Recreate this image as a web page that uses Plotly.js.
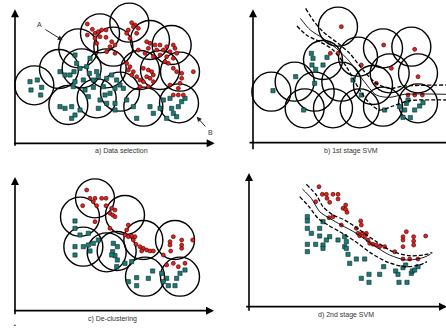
<!DOCTYPE html>
<html><head><meta charset="utf-8">
<script src="https://cdn.plot.ly/plotly-3.0.1.min.js"></script>
<style>html,body{margin:0;padding:0;background:#fff}#chart{width:446px;height:329px}</style>
</head><body><div id="chart"></div>
<script>
// Panel a) Data selection
const aCircX = [103,177,235,300,388,450,515,480,540,537,430,360,290,205,245,320,420,340];
const aCircY = [256,207,145,100,68,120,135,210,215,310,320,275,295,315,205,205,210,140];
const aRedX = [262,277,285,295,305,318,262,285,300,318,290,335,345,330,320,345, 395,405,415,385,410,380,390,400, 440,450,465,480,500,520,525,445,470,490,510,530,415,435,460,480,500,520,495,505, 380,390,385,400,395,410,420,430,445,455,460,440,450,430,460,445,420, 520,530,545,580,545,540,535,520,535,550,510];
const aRedY = [72,88,100,95,90,90,105,115,110,112,130,125,135,140,155,160, 68,75,85,90,100,100,115,80, 125,130,135,135,140,135,145,145,150,150,155,160,150,160,170,165,170,175,185,190, 190,200,210,215,225,230,240,205,210,215,225,230,235,245,245,260,260, 205,215,220,215,235,250,265,285,285,285,255];
const aTealX = [90,112,93,125,122, 180,195,210,222,240,230,260,270,225, 268,290,295,250,225,280,320,335,350,310,315,330,360,345,370,300,320,295, 180,195,215,240,215,225, 345,345,380,400,410,450,460,480,490,510,515,520,535,545,555,530,500, 220,255,265,280];
const aTealY = [245,240,270,262,285, 215,225,225,215,205,190,200,175,165, 220,215,230,240,245,240,235,225,240,260,285,280,255,265,265,300,310,325, 320,325,320,330,355,345, 330,310,300,320,355,320,340,325,300,295,325,340,320,305,295,350,355, 260,270,290,262];

// Panel b) 1st stage SVM
const bCircX = [145,215,245,275,300,345,405,355,330,410,450,480,565,500,585,585,480];
const bCircY = [275,245,325,275,180,80,170,245,325,325,255,145,140,220,220,310,320];
const bRedX = [355,322,345,415,482,505,575,585,460,555,575,598];
const bRedY = [80,160,160,195,135,205,148,230,250,285,285,285];
const bTealX = [150,265,270,267,300,312,278,218,275,242,390,415,485,530,545,550,540,562,575,590,600,555];
const bTealY = [272,160,175,195,195,172,208,230,250,330,240,285,330,320,330,310,352,353,330,318,308,300];
const bSolidX = [232,262,300,340,380,420,460,500,545,669];
const bSolidY = [55,90,115,145,185,240,285,292,283,283];
const bUpX = [248,270,300,345,380,420,460,500,545,669];
const bUpY = [25,60,95,130,160,210,250,265,258,255];
const bLowX = [222,250,290,330,370,410,440,470,510,560,669];
const bLowY = [78,105,125,150,200,270,310,330,318,302,300];

// Panel c) De-clustering
const cCircX = [285,240,375,250,320,350,430,525,435,540];
const cCircY = [100,155,150,245,262,258,225,225,335,335];
const cRedX = [260,270,285,280,305,318,248,290,318,335,345,330,338,345,285,330,385,380,375,385,395,405,400,408,420,430,440,450,460,425,490,520,510,510,545,545,545,578,512,500,520,535,555];
const cRedY = [75,100,100,110,100,100,122,122,122,130,135,145,150,155,170,190,180,195,210,215,213,215,225,238,245,250,255,258,258,258,270,215,230,240,225,240,250,225,258,300,295,305,295];
const cTealX = [225,225,240,265,250,225,225,265,280,295,270,340,352,338,345,352,335,350,375,395,385,410,410,445,458,485,500,490,505,525,530,540,555];
const cTealY = [168,190,210,205,245,245,270,240,235,225,258,235,245,260,272,285,270,305,295,290,350,338,362,340,318,325,340,350,362,362,340,325,315];

// Panel d) 2nd stage SVM
const dRedX = [288,278,298,310,312,330,345,345,320,360,368,368,372,330,318,355,413,415,400,405,418,425,430,410,435,440,450,460,470,485,515,540,550,540,540,572,572,572,608,540,560,585];
const dRedY = [65,110,88,88,100,88,88,102,112,130,120,133,142,155,158,180,168,180,190,205,205,215,205,212,225,235,238,240,245,245,260,215,200,225,245,215,228,240,213,282,282,282];
const dTealX = [253,253,253,265,300,290,290,320,310,345,300,300,278,253,253,365,370,365,370,375,380,400,425,482,470,438,415,438,518,525,540,565,568,575,585,528,552,548];
const dTealY = [155,168,190,205,170,190,213,215,225,225,240,250,238,238,260,215,230,245,250,268,295,282,282,305,328,328,340,352,318,328,308,325,318,315,305,352,352,300];
const dSolidX = [238,265,290,320,355,400,450,500,550,600,622];
const dSolidY = [72,100,140,160,180,205,240,270,285,278,268];
const dUpX = [250,280,300,330,365,410,460,510,560,600,628];
const dUpY = [58,90,125,150,165,195,230,260,272,270,263];
const dLowX = [230,258,285,315,350,395,445,495,545,590,612];
const dLowY = [95,125,160,180,200,228,265,292,305,300,290];

const captions = ['a) Data selection','b) 1st stage SVM','c) De-clustering','d) 2nd stage SVM'];

const RED = '#e3201b', TEAL = '#1d7a74';
const traces = [];
function pts(x, y, ax, kind){
  const red = kind === 'red';
  traces.push({type:'scatter', mode:'markers', x:x, y:y, xaxis:'x'+ax, yaxis:'y'+ax, hoverinfo:'skip',
    marker:{symbol: red ? 'circle' : 'square', size: red ? 4 : 4.2, color: red ? RED : TEAL,
      line:{width:0.6, color: red ? '#3a0000' : '#062a28'}}});
}
function circles(x, y, ax){
  traces.push({type:'scatter', mode:'markers', x:x, y:y, xaxis:'x'+ax, yaxis:'y'+ax, hoverinfo:'skip',
    marker:{symbol:'circle-open', size:39, color:'#000', line:{width:1.4}}});
}
function curve(x, y, ax, dash){
  traces.push({type:'scatter', mode:'lines', x:x, y:y, xaxis:'x'+ax, yaxis:'y'+ax, hoverinfo:'skip',
    line:{color:'#000', width: dash ? 1.3 : 0.9, dash: dash ? '4px,2px' : 'solid', shape:'spline', smoothing:0.8}});
}

circles(aCircX, aCircY, ''); pts(aTealX, aTealY, '', 'teal'); pts(aRedX, aRedY, '', 'red');
circles(bCircX, bCircY, '2'); pts(bTealX, bTealY, '2', 'teal'); pts(bRedX, bRedY, '2', 'red');
curve(bSolidX, bSolidY, '2', false); curve(bUpX, bUpY, '2', true); curve(bLowX, bLowY, '2', true);
circles(cCircX, cCircY, '3'); pts(cTealX, cTealY, '3', 'teal'); pts(cRedX, cRedY, '3', 'red');
pts(dTealX, dTealY, '4', 'teal'); pts(dRedX, dRedY, '4', 'red');
curve(dSolidX, dSolidY, '4', false); curve(dUpX, dUpY, '4', true); curve(dLowX, dLowY, '4', true);

const hTop = 165/329;
function axx(dom){ return {domain:dom, range:[0,669], visible:false, fixedrange:true}; }
function axy(dom, h){ return {domain:dom, range:[h,0], visible:false, fixedrange:true}; }

function arrow(ax, hx, hy, tx, ty){
  return {xref:'x'+ax, yref:'y'+ax, axref:'x'+ax, ayref:'y'+ax, x:hx, y:hy, ax:tx, ay:ty, text:'',
    showarrow:true, arrowhead:2, arrowsize:1, arrowwidth:1.6, arrowcolor:'#000'};
}
const capFont = {family:'Liberation Sans, Arial, sans-serif', size:7, color:'#333'};
function cap(ax, x, y, t){
  return {xref:'x'+ax, yref:'y'+ax, x:x, y:y, text:t, showarrow:false, font:capFont};
}
const annotations = [
  arrow('', 45, 28, 45, 442), arrow('', 644, 430, 38, 430),
  arrow('2', 90, 28, 90, 452), arrow('2', 720, 428, 75, 428),
  arrow('3', 45, 36, 45, 452), arrow('3', 642, 437, 38, 437),
  arrow('4', 78, 24, 78, 442), arrow('4', 672, 425, 65, 425),
  cap('', 365, 452, captions[0]), cap('2', 383, 452, captions[1]),
  cap('3', 337, 462, captions[2]), cap('4', 368, 450, captions[3]),
  {xref:'x', yref:'y', x:188, y:121, ax:132, ay:86, axref:'x', ayref:'y', text:'', showarrow:true,
   arrowhead:2, arrowsize:1, arrowwidth:1, arrowcolor:'#222'},
  {xref:'x', yref:'y', x:590, y:350, ax:620, ay:384, axref:'x', ayref:'y', text:'', showarrow:true,
   arrowhead:2, arrowsize:1, arrowwidth:1, arrowcolor:'#222'},
  {xref:'x', yref:'y', x:117, y:72, text:'A', showarrow:false, font:capFont},
  {xref:'x', yref:'y', x:630, y:396, text:'B', showarrow:false, font:capFont},
  {xref:'x3', yref:'y3', x:45, y:480, text:'•', showarrow:false, font:{family:'Liberation Sans, Arial', size:5, color:'#000'}}
];

const layout = {
  width:446, height:329, margin:{l:0,r:0,t:0,b:0}, showlegend:false,
  paper_bgcolor:'#fff', plot_bgcolor:'rgba(0,0,0,0)',
  xaxis:axx([0,0.5]), yaxis:axy([1-hTop,1],495),
  xaxis2:axx([0.5,1]), yaxis2:axy([1-hTop,1],495),
  xaxis3:axx([0,0.5]), yaxis3:axy([0,164/329],492),
  xaxis4:axx([0.5,1]), yaxis4:axy([0,164/329],492),
  annotations:annotations
};
Plotly.newPlot('chart', traces, layout, {staticPlot:true, displayModeBar:false});
</script></body></html>
